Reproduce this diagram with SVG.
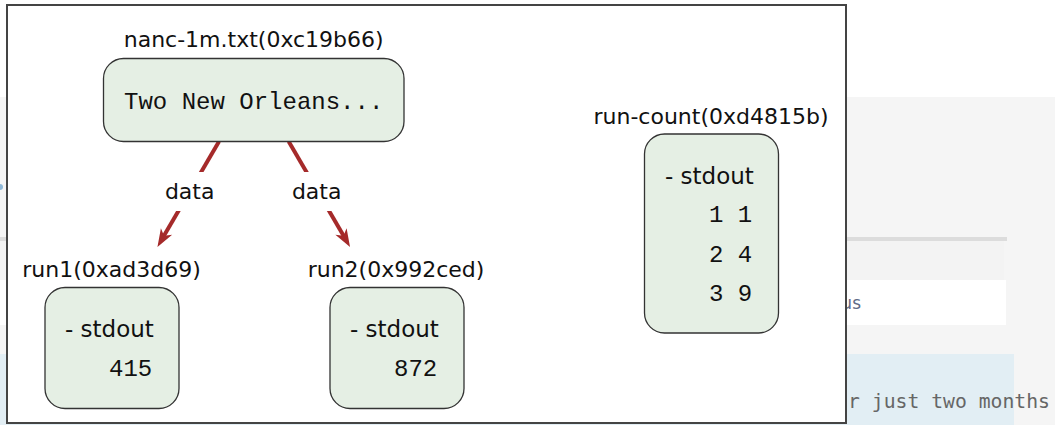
<svg xmlns="http://www.w3.org/2000/svg" width="1055" height="425" viewBox="0 0 1055 425">
  <style>
    .lbl { font-family: "DejaVu Sans", sans-serif; font-size: 22px; fill: #111; }
    .body { font-family: "DejaVu Sans", sans-serif; font-size: 23px; fill: #111; }
    .mono { font-family: "Liberation Mono", monospace; font-size: 24px; fill: #111; }
    .node { fill: #e5efe4; stroke: #333; stroke-width: 1.3; }
    .edge { fill: none; stroke: #a52a2a; stroke-width: 4; }
  </style>
  <defs>
    <marker id="arrow" markerUnits="userSpaceOnUse" orient="auto" overflow="visible" markerWidth="20" markerHeight="14" refX="0" refY="0">
      <path d="M12,0 L-6,-6.5 L-1,0 L-6,6.5 Z" fill="#a52a2a"/>
    </marker>
  </defs>

  <!-- background page fragments -->
  <g id="background">
    <rect x="0" y="0" width="1055" height="425" fill="#ffffff"/>
    <rect x="0" y="97" width="1055" height="328" fill="#f5f5f5"/>
    <rect x="0" y="237" width="1007" height="4" fill="#dcdcdc"/>
    <rect x="0" y="241" width="1004" height="39" fill="#f3f3f3"/>
    <rect x="0" y="280" width="1006" height="45" fill="#ffffff"/>
    <rect x="0" y="354" width="1014" height="71" fill="#e2eef4"/>
    <circle cx="0" cy="187" r="3" fill="#8fb8d8"/>
    <text x="861" y="309" text-anchor="end" font-family="DejaVu Sans, sans-serif" font-size="17" fill="#5f6b86">us</text>
    <text x="848" y="408" font-family="DejaVu Sans Mono, monospace" font-size="20" fill="#666666" textLength="202" lengthAdjust="spacingAndGlyphs">r just two months</text>
  </g>

  <!-- frame -->
  <rect id="frame" x="7" y="5" width="839" height="418" fill="#ffffff" stroke="#444" stroke-width="2"/>

  <!-- connectors -->
  <g id="connectors">
    <line class="edge" x1="219" y1="141.5" x2="163.5" y2="236.6" marker-end="url(#arrow)"/>
    <line class="edge" x1="288.7" y1="141.5" x2="344" y2="236.6" marker-end="url(#arrow)"/>
    <rect x="160" y="172" width="60" height="39" fill="#ffffff"/>
    <rect x="287" y="172" width="60" height="39" fill="#ffffff"/>
    <text class="lbl" x="189.7" y="199.3" text-anchor="middle">data</text>
    <text class="lbl" x="316.7" y="199.3" text-anchor="middle">data</text>
  </g>

  <!-- nodes -->
  <g id="nanc">
    <text class="lbl" x="253.7" y="47" text-anchor="middle">nanc-1m.txt(0xc19b66)</text>
    <rect class="node" x="103.5" y="58.5" width="300.5" height="83" rx="20"/>
    <text class="mono" x="253.7" y="109" text-anchor="middle">Two New Orleans...</text>
  </g>

  <g id="run1">
    <text class="lbl" x="111.5" y="277" text-anchor="middle">run1(0xad3d69)</text>
    <rect class="node" x="45" y="287.5" width="134" height="121" rx="20"/>
    <text class="body" x="65" y="337">- stdout</text>
    <text class="mono" x="109" y="376">415</text>
  </g>

  <g id="run2">
    <text class="lbl" x="396" y="277" text-anchor="middle">run2(0x992ced)</text>
    <rect class="node" x="330" y="287.5" width="134" height="121" rx="20"/>
    <text class="body" x="350" y="337">- stdout</text>
    <text class="mono" x="394" y="376">872</text>
  </g>

  <g id="run-count">
    <text class="lbl" x="711" y="123.5" text-anchor="middle">run-count(0xd4815b)</text>
    <rect class="node" x="644.5" y="134" width="134" height="199" rx="20"/>
    <text class="body" x="665" y="184">- stdout</text>
    <text class="mono" x="709" y="222">1 1</text>
    <text class="mono" x="709" y="262">2 4</text>
    <text class="mono" x="709" y="301">3 9</text>
  </g>
</svg>
